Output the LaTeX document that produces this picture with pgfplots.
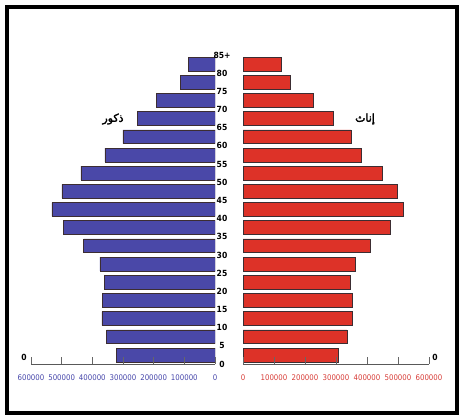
\documentclass[border=0pt]{standalone}
\usepackage{fontspec}
\setmainfont{DejaVu Sans Condensed}
\newfontfamily\arabicfont[Script=Arabic,FakeBold=2.5]{DejaVu Sans}
\TeXXeTstate=1
\usepackage{pgfplots}
\pgfplotsset{compat=1.18}
\definecolor{mblue}{RGB}{74,72,168}
\definecolor{fred}{RGB}{221,50,40}
\definecolor{tblue}{RGB}{70,70,170}
\definecolor{tred}{RGB}{215,60,55}
\definecolor{edge}{RGB}{60,45,50}

\pgfplotsset{pyr/.style={
    scale only axis, height=309bp,
    xmin=0, xmax=600000, ymin=0, ymax=17,
    axis x line*=bottom,
    xtick={0,100000,...,600000},
    tick align=inside, major tick length=7bp,
    x axis line style={draw=black!65, line width=0.8bp, -},
    every tick/.style={draw=black!60, line width=0.6bp},
    /pgf/number format/.cd, fixed, 1000 sep={}, assume math mode=true,
    /pgfplots/.cd,
    scaled x ticks=false,
    xticklabel style={font=\fontsize{7.8}{8}\selectfont, yshift=-7bp},
    xbar, bar width=0.76,
    axis on top,
  }}

\begin{document}
\begin{tikzpicture}
\useasboundingbox (0,0) rectangle (462bp,417bp);
\draw[line width=4bp] (7bp,4bp) rectangle (457bp,410bp);

% males
\begin{axis}[pyr, at={(215bp,53bp)}, width=184bp,
    x dir=reverse, anchor=south east, axis y line=none,
    xticklabel style={text=tblue}]
\addplot[fill=mblue, draw=edge, line width=0.6bp] coordinates {
(321000,0.5) (353000,1.5) (369000,2.5) (366000,3.5) (361000,4.5)
(375000,5.5) (428000,6.5) (495000,7.5) (532000,8.5) (499000,9.5)
(437000,10.5) (359000,11.5) (300000,12.5) (253000,13.5) (190000,14.5)
(114000,15.5) (87000,16.5)};
\end{axis}

% females
\begin{axis}[pyr, at={(243bp,53bp)}, anchor=south west, width=186bp,
    xticklabel style={text=tred},
    axis y line*=left, y axis line style={draw=none},
    ytick={0,...,17}, major y tick style={draw=none},
    yticklabels={0,5,10,15,20,25,30,35,40,45,50,55,60,65,70,75,80,85+},
    yticklabel style={font=\fontsize{8.5}{9}\selectfont\bfseries, anchor=center, xshift=-14bp}]
\addplot[fill=fred, draw=edge, line width=0.6bp] coordinates {
(307000,0.5) (335000,1.5) (352000,2.5) (352000,3.5) (346000,4.5)
(361000,5.5) (410000,6.5) (475000,7.5) (516000,8.5) (497000,9.5)
(448000,10.5) (380000,11.5) (348000,12.5) (291000,13.5) (226000,14.5)
(153000,15.5) (122000,16.5)};
\end{axis}

\node[font=\fontsize{8.5}{9}\selectfont\bfseries] at (24bp,60bp) {0};
\node[font=\fontsize{8.5}{9}\selectfont\bfseries] at (435bp,60bp) {0};
\node[font=\arabicfont\fontsize{11}{13}\selectfont] at (113bp,298bp) {\beginR ذكور\endR};
\node[font=\arabicfont\fontsize{11}{13}\selectfont] at (365bp,298bp) {\beginR إناث\endR};
\end{tikzpicture}
\end{document}
